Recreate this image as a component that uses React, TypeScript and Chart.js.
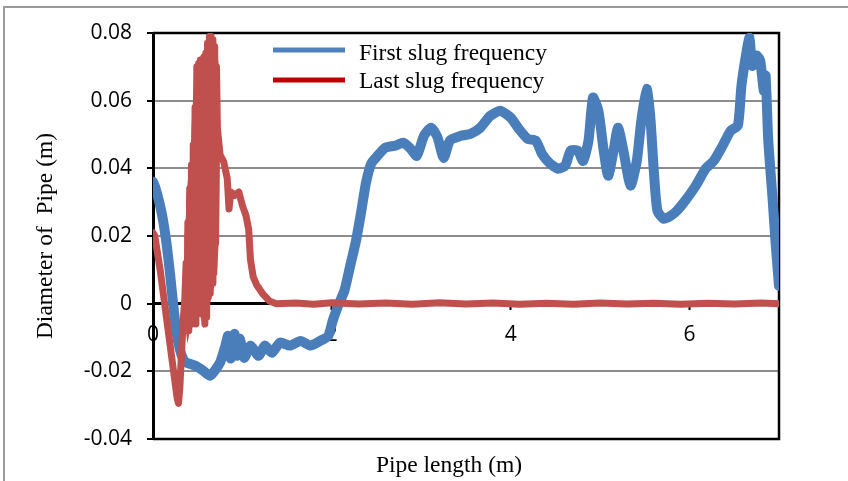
import React, { useEffect, useRef } from 'react';
import { Chart, registerables } from 'chart.js';

Chart.register(...registerables);

// ---- Data ----
const seriesNames = ['First slug frequency', 'Last slug frequency'];
const xTitle = 'Pipe length (m)';
const yTitle = 'Diameter of  Pipe (m)';
const xTickLabels = ['0', '2', '4', '6'];
const yTickLabels = ['-0.04', '-0.02', '0', '0.02', '0.04', '0.06', '0.08'];

const firstX = [0.00, 0.03, 0.07, 0.11, 0.15, 0.19, 0.225, 0.26, 0.30, 0.34, 0.38, 0.47, 0.56, 0.64, 0.69, 0.75, 0.81, 0.84, 0.87, 0.91, 0.94, 0.97, 1.02, 1.09, 1.18, 1.25, 1.33, 1.42, 1.53, 1.65, 1.76, 1.87, 1.96, 2.01, 2.07, 2.14, 2.20, 2.27, 2.33, 2.38, 2.44, 2.51, 2.60, 2.71, 2.80, 2.88, 2.95, 3.03, 3.11, 3.18, 3.25, 3.32, 3.44, 3.55, 3.66, 3.77, 3.88, 4.00, 4.09, 4.19, 4.28, 4.35, 4.44, 4.53, 4.61, 4.67, 4.75, 4.81, 4.87, 4.92, 4.98, 5.04, 5.09, 5.15, 5.20, 5.26, 5.34, 5.41, 5.46, 5.52, 5.56, 5.60, 5.64, 5.71, 5.79, 5.86, 5.95, 6.07, 6.18, 6.27, 6.37, 6.46, 6.54, 6.58, 6.63, 6.67, 6.70, 6.75, 6.79, 6.83, 6.85, 6.88, 6.93, 6.96, 7.00];
const firstY = [0.036, 0.034, 0.030, 0.025, 0.018, 0.009, 0.000, -0.008, -0.0135, -0.0165, -0.0175, -0.0183, -0.0198, -0.0213, -0.0198, -0.0174, -0.0124, -0.0095, -0.0162, -0.0089, -0.0154, -0.0103, -0.016, -0.0124, -0.0154, -0.0124, -0.0145, -0.0115, -0.0124, -0.011, -0.0124, -0.011, -0.0095, -0.005, -0.0006, 0.0038, 0.0106, 0.0186, 0.0275, 0.0355, 0.0414, 0.0437, 0.0461, 0.0467, 0.0476, 0.0458, 0.0437, 0.0496, 0.052, 0.0493, 0.0431, 0.0482, 0.0496, 0.0502, 0.052, 0.0555, 0.057, 0.055, 0.0517, 0.0487, 0.0482, 0.0443, 0.0414, 0.0399, 0.0408, 0.0452, 0.0452, 0.0422, 0.0482, 0.0609, 0.057, 0.0452, 0.0378, 0.0452, 0.052, 0.0452, 0.0349, 0.0422, 0.054, 0.0635, 0.0555, 0.0393, 0.0275, 0.0251, 0.026, 0.0275, 0.0304, 0.0349, 0.0399, 0.0422, 0.0467, 0.0511, 0.0526, 0.0644, 0.0733, 0.0786, 0.0703, 0.0733, 0.0718, 0.0629, 0.0674, 0.0482, 0.0304, 0.0186, 0.0053];

const lastX = [0.00, 0.02, 0.05, 0.08, 0.12, 0.16, 0.20, 0.24, 0.27, 0.285, 0.30, 0.32, 0.34, 0.355,
  0.37, 0.38, 0.39, 0.40, 0.41, 0.42, 0.43, 0.44, 0.45, 0.46, 0.47, 0.48, 0.49, 0.50, 0.51, 0.52, 0.53, 0.54,
  0.55, 0.56, 0.57, 0.58, 0.59, 0.60, 0.61, 0.62, 0.63, 0.64, 0.65, 0.66, 0.67, 0.68, 0.69, 0.70, 0.71, 0.72,
  0.75, 0.79, 0.83, 0.85, 0.87, 0.91, 0.96, 1.00, 1.04, 1.07, 1.09, 1.12, 1.16, 1.23, 1.30, 1.38, 1.60, 1.80, 2.00, 2.30, 2.60, 2.90, 3.20, 3.50, 3.80, 4.10, 4.40, 4.70, 5.00, 5.30, 5.60, 5.90, 6.20, 6.50, 6.80, 7.00];
const lastY = [0.021, 0.020, 0.015, 0.010, 0.002, -0.006, -0.014, -0.022, -0.028, -0.0295, -0.025, -0.014, -0.004, 0.001,
  0.012, -0.004, 0.024, -0.008, 0.034, -0.003, 0.041, -0.006, 0.047, -0.005, 0.058, -0.006, 0.070, -0.001, 0.071, -0.002, 0.072, -0.003,
  0.072, -0.002, 0.073, -0.006, 0.074, -0.004, 0.077, 0.002, 0.079, 0.003, 0.079, 0.006, 0.078, 0.009, 0.076, 0.018, 0.070, 0.052,
  0.044, 0.042, 0.037, 0.028, 0.033, 0.032, 0.033, 0.029, 0.026, 0.022, 0.013, 0.008, 0.0055, 0.0028, 0.0008, 0.0, 0.0002, -0.0002, 0.0003, -0.0001, 0.0002, -0.0002, 0.0003, -0.0001, 0.0002, -0.0002, 0.0001, -0.0002, 0.0002, -0.0001, 0.0001, -0.0002, 0.0001, -0.0001, 0.0002, 0.0];

// envelope of the dense oscillation block of the last-slug series
const columnX = [0.375, 0.38, 0.39, 0.41, 0.43, 0.45, 0.46, 0.47, 0.49, 0.51, 0.54, 0.57, 0.60, 0.62, 0.64, 0.67, 0.69, 0.71, 0.72];
const columnTop = [0.010, 0.020, 0.023, 0.034, 0.040, 0.044, 0.053, 0.057, 0.070, 0.071, 0.071, 0.072, 0.075, 0.077, 0.078, 0.078, 0.075, 0.069, 0.055];
const columnBottom = [-0.003, -0.005, -0.007, -0.004, -0.004, -0.005, -0.004, -0.003, -0.003, -0.002, -0.002, -0.005, -0.003, 0.002, 0.003, 0.007, 0.010, 0.020, 0.045];

const firstColor = '#4A7EBB';
const lastColor = '#C0504D';
const firstLegendColor = '#4F81BD';
const lastLegendColor = '#C00000';

const serif = '"Liberation Serif", "Times New Roman", serif';
const sans = '"Open Sans", Lato, sans-serif';

const decorPlugin = {
  id: 'decor',
  beforeDatasetsDraw(chart: any) {
    const { ctx, chartArea } = chart;
    ctx.save();
    ctx.strokeStyle = '#000';
    ctx.lineWidth = 2.5;
    ctx.beginPath();
    ctx.moveTo(chartArea.left, chartArea.top);
    ctx.lineTo(chartArea.right, chartArea.top);
    ctx.lineTo(chartArea.right, chartArea.bottom);
    ctx.lineTo(chartArea.left, chartArea.bottom);
    ctx.stroke();
    ctx.restore();
  },
  afterDraw(chart: any) {
    const { ctx } = chart;
    ctx.save();
    // outer border
    ctx.strokeStyle = '#9a9a9a';
    ctx.lineWidth = 2;
    ctx.strokeRect(4, 7, 950, 600);
    // legend
    ctx.lineWidth = 5;
    ctx.lineCap = 'butt';
    ctx.strokeStyle = firstLegendColor;
    ctx.beginPath();
    ctx.moveTo(273, 50);
    ctx.lineTo(345, 50);
    ctx.stroke();
    ctx.strokeStyle = lastLegendColor;
    ctx.beginPath();
    ctx.moveTo(273, 80);
    ctx.lineTo(345, 80);
    ctx.stroke();
    ctx.fillStyle = '#000';
    ctx.font = `23.5px ${serif}`;
    ctx.textBaseline = 'alphabetic';
    ctx.textAlign = 'left';
    ctx.fillText(seriesNames[0], 359, 60);
    ctx.fillText(seriesNames[1], 359, 88);
    // x title
    ctx.textAlign = 'center';
    ctx.fillText(xTitle, 449, 472);
    ctx.restore();
  },
};

export default function App() {
  const ref = useRef<HTMLCanvasElement | null>(null);
  useEffect(() => {
    if (!ref.current) return;
    const firstData = firstX.map((x, i) => ({ x, y: firstY[i] }));
    const lastData = lastX.map((x, i) => ({ x, y: lastY[i] }));
    const colTopData = columnX.map((x, i) => ({ x, y: columnTop[i] }));
    const colBottomData = columnX.map((x, i) => ({ x, y: columnBottom[i] }));
    const chart = new Chart(ref.current, {
      type: 'line',
      data: {
        datasets: [
          {
            label: seriesNames[0],
            data: firstData,
            borderColor: firstColor,
            backgroundColor: firstColor,
            borderWidth: 10,
            pointRadius: 0,
            tension: 0.2,
            borderJoinStyle: 'round',
            borderCapStyle: 'round',
            order: 3,
          },
          {
            label: 'col-top',
            data: colTopData,
            borderColor: lastColor,
            backgroundColor: lastColor,
            borderWidth: 5,
            pointRadius: 0,
            tension: 0,
            fill: false,
            order: 2,
          },
          {
            label: 'col-bottom',
            data: colBottomData,
            borderColor: lastColor,
            backgroundColor: lastColor,
            borderWidth: 5,
            pointRadius: 0,
            tension: 0,
            fill: '-1',
            order: 1,
          },
          {
            label: seriesNames[1],
            data: lastData,
            borderColor: lastColor,
            backgroundColor: lastColor,
            borderWidth: 7,
            pointRadius: 0,
            tension: 0,
            borderJoinStyle: 'round',
            borderCapStyle: 'round',
            order: 0,
          },
        ],
      },
      options: {
        animation: false,
        responsive: true,
        maintainAspectRatio: false,
        layout: { padding: { top: 33, right: 69, bottom: 42, left: 0 } },
        plugins: { legend: { display: false }, tooltip: { enabled: false } },
        scales: {
          x: {
            type: 'linear',
            min: 0,
            max: 7,
            position: { y: 0 } as any,
            ticks: {
              stepSize: 2,
              includeBounds: false,
              autoSkip: false,
              maxRotation: 0,
              color: '#000',
              padding: 14,
              font: { family: sans, size: 21 },
              callback: (v: any) => {
                const idx = [0, 2, 4, 6].indexOf(Number(v));
                return idx >= 0 ? xTickLabels[idx] : '';
              },
            },
            grid: {
              drawOnChartArea: false,
              drawTicks: true,
              tickLength: 5,
              tickColor: '#000',
              tickWidth: 2,
            },
            border: { display: true, color: '#000', width: 3 },
          },
          y: {
            type: 'linear',
            min: -0.04,
            max: 0.08,
            ticks: {
              stepSize: 0.02,
              color: '#000',
              padding: 15,
              font: { family: sans, size: 21 },
              callback: (v: any) => {
                const idx = Math.round((Number(v) + 0.04) / 0.02);
                return yTickLabels[idx] ?? '';
              },
            },
            grid: {
              color: '#8c8c8c',
              lineWidth: 2,
              drawTicks: true,
              tickLength: 6,
              tickColor: '#000',
              tickWidth: 2,
            },
            border: { display: true, color: '#000', width: 3 },
            title: {
              display: true,
              text: yTitle,
              color: '#000',
              font: { family: serif, size: 23.5, lineHeight: 1 },
              padding: { top: 34, bottom: 0 },
            },
            afterFit: (s: any) => {
              s.width = 153;
            },
          },
        },
      },
      plugins: [decorPlugin],
    });
    return () => chart.destroy();
  }, []);
  return (
    <div style={{ position: 'fixed', left: 0, top: 0, width: 848, height: 481, background: '#fff' }}>
      <canvas ref={ref} />
    </div>
  );
}
